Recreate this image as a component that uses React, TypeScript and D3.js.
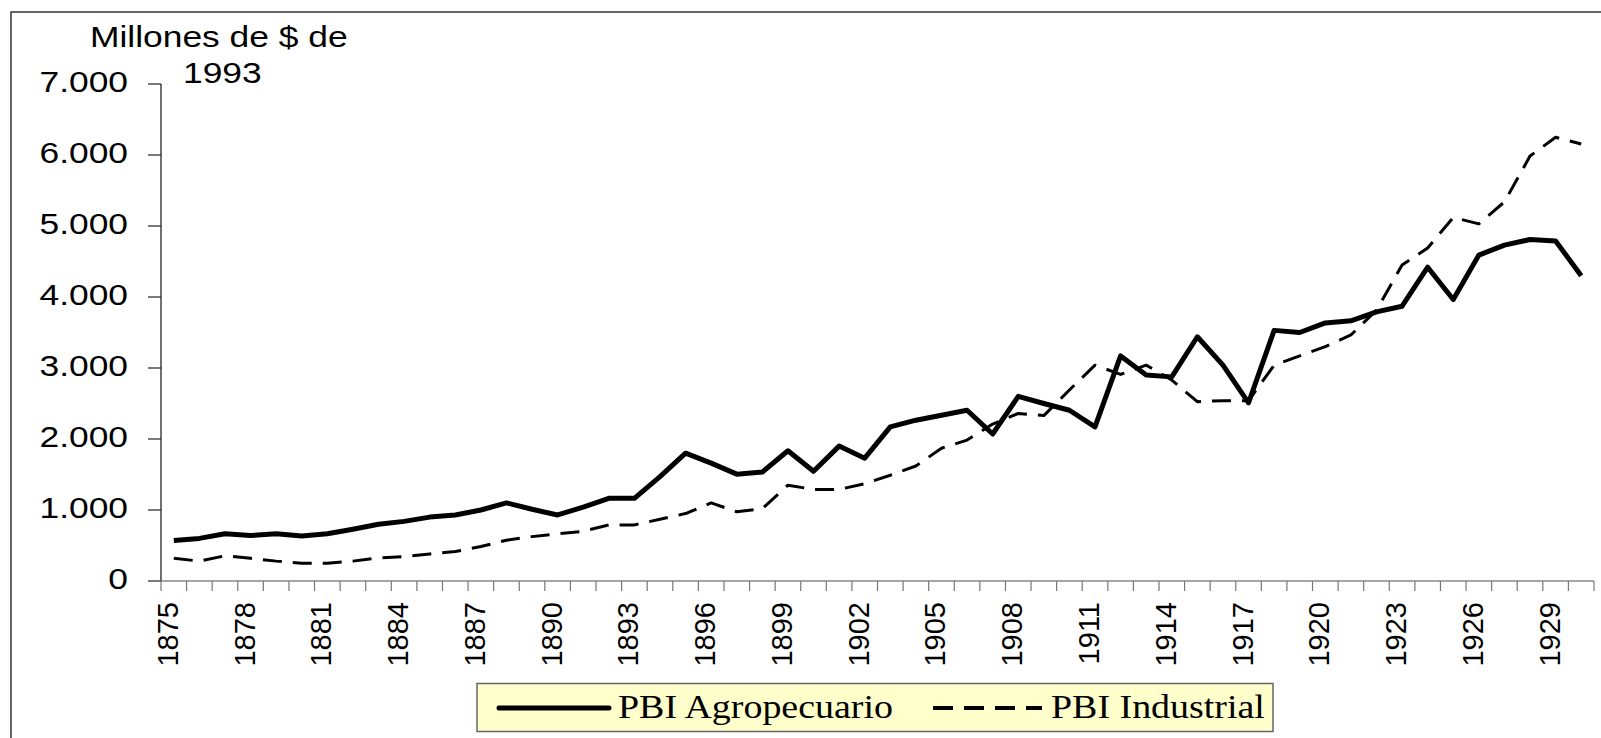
import React, { useEffect, useRef } from 'react';
import * as d3 from 'd3';

const years = [
  1875, 1876, 1877, 1878, 1879, 1880, 1881, 1882, 1883, 1884, 1885, 1886, 1887, 1888,
  1889, 1890, 1891, 1892, 1893, 1894, 1895, 1896, 1897, 1898, 1899, 1900, 1901, 1902,
  1903, 1904, 1905, 1906, 1907, 1908, 1909, 1910, 1911, 1912, 1913, 1914, 1915, 1916,
  1917, 1918, 1919, 1920, 1921, 1922, 1923, 1924, 1925, 1926, 1927, 1928, 1929, 1930
];

const agro = [
  570, 600, 665, 640, 665, 635, 665, 730, 800, 840, 900, 930, 1000, 1100,
  1010, 930, 1040, 1165, 1165, 1470, 1800, 1660, 1505, 1535, 1835, 1545, 1900, 1730,
  2170, 2265, 2335, 2405, 2070, 2600, 2500, 2405, 2170, 3170, 2900, 2875, 3440, 3040,
  2510, 3530, 3500, 3635, 3665, 3790, 3870, 4420, 3965, 4590, 4730, 4810, 4790, 4300
];

const industrial = [
  320, 280, 355, 320, 280, 250, 250, 280, 325, 345, 380, 415, 485, 575,
  625, 665, 700, 790, 790, 870, 950, 1100, 975, 1020, 1350, 1290, 1290, 1370,
  1490, 1620, 1870, 1985, 2210, 2360, 2330, 2690, 3040, 2910, 3040, 2830, 2525, 2540,
  2540, 3040, 3170, 3300, 3465, 3815, 4450, 4690, 5120, 5030, 5340, 5985, 6250, 6155
];

const yTicks = [0, 1000, 2000, 3000, 4000, 5000, 6000, 7000];
const labelYears = [1875, 1878, 1881, 1884, 1887, 1890, 1893, 1896, 1899, 1902, 1905, 1908, 1911, 1914, 1917, 1920, 1923, 1926, 1929];

const seriesNames = ['PBI Agropecuario', 'PBI Industrial'];
const titleLines = ['Millones de $ de', '1993'];

const App: React.FC = () => {
  const ref = useRef<SVGSVGElement | null>(null);

  useEffect(() => {
    if (!ref.current) return;
    const width = 1601;
    const height = 738;
    const svg = d3.select(ref.current).attr('width', width).attr('height', height);
    svg.selectAll('*').remove();

    const sans = "'Liberation Sans', Arial, sans-serif";
    const serif = "'Liberation Serif', 'Times New Roman', serif";
    const stretch = 1.18;

    // outer frame (runs off the right and bottom edges)
    svg.append('rect')
      .attr('x', 11).attr('y', 12)
      .attr('width', 1700).attr('height', 800)
      .attr('fill', 'white').attr('stroke', '#333').attr('stroke-width', 1.5);

    const x = d3.scaleBand<number>().domain(years).range([161, 1594]).padding(0);
    const y = d3.scaleLinear().domain([0, 7000]).range([581, 84]);
    const cx = (yr: number) => (x(yr) as number) + x.bandwidth() / 2;

    const fmt = d3.formatLocale({ decimal: ',', thousands: '.', grouping: [3], currency: ['$', ''] }).format(',');

    // y axis
    svg.append('line')
      .attr('x1', 161).attr('x2', 161).attr('y1', y(7000)).attr('y2', y(0))
      .attr('stroke', '#111').attr('stroke-width', 1.2);
    yTicks.forEach(t => {
      svg.append('line')
        .attr('x1', 148).attr('x2', 161).attr('y1', y(t)).attr('y2', y(t))
        .attr('stroke', '#222').attr('stroke-width', 1.2);
      svg.append('text')
        .attr('transform', `translate(128,${y(t) + 8}) scale(${stretch},1)`)
        .attr('text-anchor', 'end')
        .attr('font-family', sans).attr('font-size', 30).attr('fill', '#000')
        .text(fmt(t));
    });

    // x axis
    svg.append('line')
      .attr('x1', 161).attr('x2', 1594).attr('y1', y(0)).attr('y2', y(0))
      .attr('stroke', '#888').attr('stroke-width', 1.5);
    years.forEach(yr => {
      const xx = x(yr) as number;
      svg.append('line')
        .attr('x1', xx).attr('x2', xx).attr('y1', y(0)).attr('y2', y(0) + 10)
        .attr('stroke', '#777').attr('stroke-width', 1.2);
    });
    svg.append('line')
      .attr('x1', 1594).attr('x2', 1594).attr('y1', y(0)).attr('y2', y(0) + 10)
      .attr('stroke', '#777').attr('stroke-width', 1.2);
    labelYears.forEach(yr => {
      svg.append('text')
        .attr('transform', `translate(${cx(yr) + 4},602) rotate(-90)`)
        .attr('text-anchor', 'end')
        .attr('font-family', sans).attr('font-size', 29).attr('fill', '#000')
        .text(String(yr));
    });

    // title
    svg.append('text')
      .attr('transform', `translate(90,47) scale(${stretch},1)`)
      .attr('font-family', sans).attr('font-size', 30).attr('fill', '#000')
      .text(titleLines[0]);
    svg.append('text')
      .attr('transform', `translate(183,83) scale(${stretch},1)`)
      .attr('font-family', sans).attr('font-size', 30).attr('fill', '#000')
      .text(titleLines[1]);

    // lines
    const line = d3.line<number>()
      .x((_, i) => cx(years[i]))
      .y(d => y(d));

    svg.append('path')
      .datum(industrial)
      .attr('d', line)
      .attr('fill', 'none').attr('stroke', '#000')
      .attr('stroke-width', 3).attr('stroke-dasharray', '19 11')
      .attr('stroke-linejoin', 'round');

    svg.append('path')
      .datum(agro)
      .attr('d', line)
      .attr('fill', 'none').attr('stroke', '#000')
      .attr('stroke-width', 5).attr('stroke-linejoin', 'round');

    // legend
    const lg = svg.append('g');
    lg.append('rect')
      .attr('x', 477).attr('y', 683.5).attr('width', 796).attr('height', 48)
      .attr('fill', '#FFFFCC').attr('stroke', '#666').attr('stroke-width', 1.5);
    lg.append('line')
      .attr('x1', 499).attr('x2', 609).attr('y1', 708).attr('y2', 708)
      .attr('stroke', '#000').attr('stroke-width', 5).attr('stroke-linecap', 'round');
    lg.append('text')
      .attr('transform', `translate(618,718) scale(1.15,1)`)
      .attr('font-family', serif).attr('font-size', 33).attr('fill', '#000')
      .text(seriesNames[0]);
    lg.append('line')
      .attr('x1', 933).attr('x2', 1042).attr('y1', 708).attr('y2', 708)
      .attr('stroke', '#000').attr('stroke-width', 4).attr('stroke-dasharray', '20 11');
    lg.append('text')
      .attr('transform', `translate(1051,718) scale(1.15,1)`)
      .attr('font-family', serif).attr('font-size', 33).attr('fill', '#000')
      .text(seriesNames[1]);
  }, []);

  return <svg ref={ref} style={{ position: 'absolute', left: 0, top: 0, display: 'block' }}></svg>;
};

export default App;
